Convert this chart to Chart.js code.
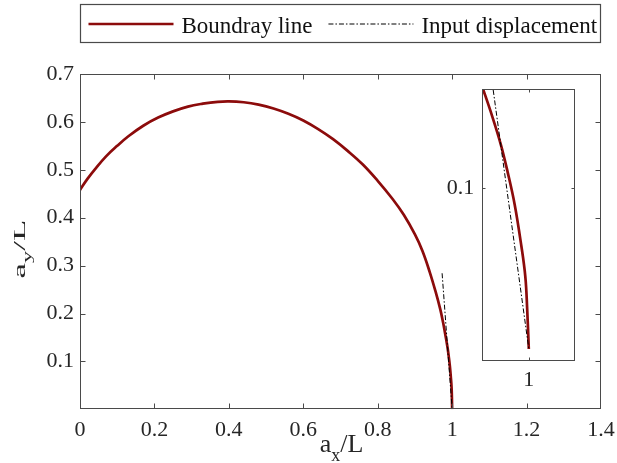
<!DOCTYPE html>
<html>
<head>
<meta charset="utf-8">
<script src="https://cdn.jsdelivr.net/npm/chart.js@4.4.1/dist/chart.umd.min.js"></script>
<style>
  html, body { margin: 0; padding: 0; background: #fff; }
  #wrap { position: relative; width: 617px; height: 463px; overflow: hidden; }
  #main { position: absolute; left: 0; top: 0; }
  #inset { position: absolute; left: 440px; top: 80px; }
</style>
</head>
<body>
<div id="wrap">
  <canvas id="main" width="617" height="463"></canvas>
  <canvas id="inset" width="150" height="315"></canvas>
</div>
<script>
// boundary curve (a_x/L, a_y/L)
var boundaryX = [0.000, 0.020, 0.040, 0.070, 0.100, 0.130, 0.170, 0.210, 0.250, 0.290,
                 0.330, 0.370, 0.400, 0.440, 0.480, 0.520, 0.560, 0.600, 0.640, 0.680,
                 0.720, 0.760, 0.800, 0.840, 0.870, 0.900, 0.920, 0.940, 0.955, 0.968,
                 0.9757, 0.9800, 0.9842, 0.9880, 0.9909, 0.9939, 0.9968, 0.9985, 0.9993, 1.000];
var boundaryY = [0.458, 0.481, 0.501, 0.528, 0.550, 0.570, 0.592, 0.609, 0.622, 0.632,
                 0.638, 0.642, 0.643, 0.641, 0.636, 0.628, 0.617, 0.603, 0.585, 0.564,
                 0.539, 0.511, 0.477, 0.439, 0.406, 0.365, 0.331, 0.286, 0.247, 0.209,
                 0.181, 0.163, 0.145, 0.127, 0.110, 0.090, 0.064, 0.045, 0.025, 0.000];
// input displacement (dash-dot)
var inputX = [0.973, 1.000];
var inputY = [0.284, 0.000];

var xTicks = [0, 0.2, 0.4, 0.6, 0.8, 1, 1.2, 1.4];
var yTicks = [0.1, 0.2, 0.3, 0.4, 0.5, 0.6, 0.7];
var insetXTicks = [1];
var insetYTicks = [0.1];

var seriesNames = ['Boundray line', 'Input displacement'];
var xTitle = ['a', 'x', '/L'];
var yTitle = ['a', 'y', '/L'];

var FONT = '"Liberation Serif", "Times New Roman", serif';
var RED = '#8c0b0b';
var DASHDOT = [5, 2, 1.5, 2];
var AXIS = '#4a4a4a';

function toPoints(xs, ys) {
    return xs.map(function (x, i) { return {x: x, y: ys[i]}; });
}

function buildDatasets() {
    return [
        {
            label: seriesNames[0],
            data: toPoints(boundaryX, boundaryY),
            borderColor: RED,
            backgroundColor: RED,
            borderWidth: 2.7,
            pointRadius: 0,
            tension: 0.4,
            fill: false,
            order: 1
        },
        {
            label: seriesNames[1],
            data: toPoints(inputX, inputY),
            borderColor: '#000',
            backgroundColor: '#000',
            borderWidth: 1,
            borderDash: DASHDOT,
            pointRadius: 0,
            fill: false,
            order: 0
        }
    ];
}

function fixedTicks(values) {
    return function (scale) {
        scale.ticks = values.map(function (v) { return {value: v}; });
    };
}

function axisScale(min, max, ticks, pad, fit) {
    return {
        type: 'linear',
        min: min,
        max: max,
        grid: {display: false, drawTicks: false},
        border: {display: false},
        afterBuildTicks: fixedTicks(ticks),
        afterFit: function (s) {
            fit(s);
            s.paddingLeft = 0; s.paddingRight = 0;
            s.paddingTop = 0; s.paddingBottom = 0;
        },
        ticks: {
            autoSkip: false,
            maxRotation: 0,
            padding: pad,
            color: '#262626',
            font: {family: FONT, size: 22},
            callback: function (v) { return String(v); }
        }
    };
}

// box round the plot, with inward ticks on all four sides
var framePlugin = {
    id: 'frame',
    beforeDatasetsDraw: function (chart, args, opts) {
        if (!opts.fill) return;
        var a = chart.chartArea;
        chart.ctx.save();
        chart.ctx.fillStyle = opts.fill;
        chart.ctx.fillRect(a.left, a.top, a.width, a.height);
        chart.ctx.restore();
    },
    afterDatasetsDraw: function (chart, args, opts) {
        var ctx = chart.ctx, a = chart.chartArea;
        var xs = chart.scales.x, ys = chart.scales.y;
        var len = opts.tickLen;
        var L = Math.round(a.left) + 0.5, R = Math.round(a.right) - 0.5;
        var T = Math.round(a.top) + 0.5, B = Math.round(a.bottom) - 0.5;
        ctx.save();
        ctx.strokeStyle = AXIS;
        ctx.lineWidth = 1;
        ctx.beginPath();
        xs.ticks.forEach(function (t) {
            var px = Math.round(xs.getPixelForValue(t.value)) + 0.5;
            if (px <= L + 1 || px >= R - 1) return;
            ctx.moveTo(px, B); ctx.lineTo(px, B - len);
            ctx.moveTo(px, T); ctx.lineTo(px, T + len);
        });
        ys.ticks.forEach(function (t) {
            var py = Math.round(ys.getPixelForValue(t.value)) + 0.5;
            if (py <= T + 1 || py >= B - 1) return;
            ctx.moveTo(L, py); ctx.lineTo(L + len, py);
            ctx.moveTo(R, py); ctx.lineTo(R - len, py);
        });
        ctx.stroke();
        ctx.strokeRect(L, T, R - L, B - T);
        ctx.restore();
    }
};

// legend in a box above the plot
var legendBoxPlugin = {
    id: 'legendBox',
    afterDraw: function (chart) {
        var ctx = chart.ctx, a = chart.chartArea;
        var top = 4.5, bottom = 42.5, midY = 24, baseY = 33;
        ctx.save();
        ctx.strokeStyle = AXIS;
        ctx.lineWidth = 1.2;
        ctx.strokeRect(Math.round(a.left) + 0.5, top, Math.round(a.right) - Math.round(a.left) - 1, bottom - top);
        ctx.font = '23px ' + FONT;
        ctx.fillStyle = '#111';
        ctx.textBaseline = 'alphabetic';
        var x = a.left + 8.5;
        chart.data.datasets.forEach(function (ds) {
            ctx.save();
            ctx.strokeStyle = ds.borderColor;
            ctx.lineWidth = ds.borderWidth;
            ctx.setLineDash(ds.borderDash || []);
            ctx.beginPath();
            ctx.moveTo(x, midY);
            ctx.lineTo(x + 85, midY);
            ctx.stroke();
            ctx.restore();
            x += 85 + 8;
            ctx.fillText(ds.label, x, baseY);
            x += ctx.measureText(ds.label).width + 16;
        });
        ctx.restore();
    }
};

function drawSubText(ctx, parts, size, subSize, subDrop, x, y) {
    ctx.font = size + 'px ' + FONT;
    var w0 = ctx.measureText(parts[0]).width;
    var w2 = ctx.measureText(parts[2]).width;
    ctx.font = subSize + 'px ' + FONT;
    var w1 = ctx.measureText(parts[1]).width;
    var sx = x - (w0 + w1 + w2) / 2;
    ctx.font = size + 'px ' + FONT;
    ctx.fillText(parts[0], sx, y);
    ctx.font = subSize + 'px ' + FONT;
    ctx.fillText(parts[1], sx + w0, y + subDrop);
    ctx.font = size + 'px ' + FONT;
    ctx.fillText(parts[2], sx + w0 + w1, y);
}

var titlesPlugin = {
    id: 'titles',
    afterDraw: function (chart) {
        var ctx = chart.ctx, a = chart.chartArea;
        ctx.save();
        ctx.fillStyle = '#262626';
        ctx.textBaseline = 'alphabetic';
        ctx.textAlign = 'left';
        drawSubText(ctx, xTitle, 26, 18, 9, (a.left + a.right) / 2 + 1, 452);
        ctx.translate(24.5, 249);
        ctx.rotate(-Math.PI / 2);
        ctx.scale(1, 0.47);
        drawSubText(ctx, yTitle, 35, 24.5, 13.8, 0, 0);
        ctx.restore();
    }
};

var mainChart = new Chart(document.getElementById('main'), {
    type: 'line',
    data: {datasets: buildDatasets()},
    options: {
        responsive: false,
        animation: false,
        events: [],
        layout: {padding: {top: 74, right: 16, left: 0, bottom: 0}},
        scales: {
            x: axisScale(0, 1.4, xTicks, 8, function (s) { s.height = 53.7; }),
            y: axisScale(0, 0.7, yTicks, 6, function (s) { s.width = 80; })
        },
        plugins: {
            legend: {display: false},
            tooltip: {enabled: false},
            frame: {tickLen: 5}
        }
    },
    plugins: [framePlugin, legendBoxPlugin, titlesPlugin]
});

var insetChart = new Chart(document.getElementById('inset'), {
    type: 'line',
    data: {datasets: buildDatasets()},
    options: {
        responsive: false,
        animation: false,
        events: [],
        layout: {padding: {top: 9.3, right: 14.7, left: 0, bottom: 0}},
        scales: {
            x: axisScale(0.98, 1.02, insetXTicks, 6, function (s) { s.height = 34; }),
            y: axisScale(-0.0075, 0.1615, insetYTicks, 8, function (s) { s.width = 42.3; })
        },
        plugins: {
            legend: {display: false},
            tooltip: {enabled: false},
            frame: {tickLen: 3, fill: '#fff'}
        }
    },
    plugins: [framePlugin]
});
</script>
</body>
</html>
